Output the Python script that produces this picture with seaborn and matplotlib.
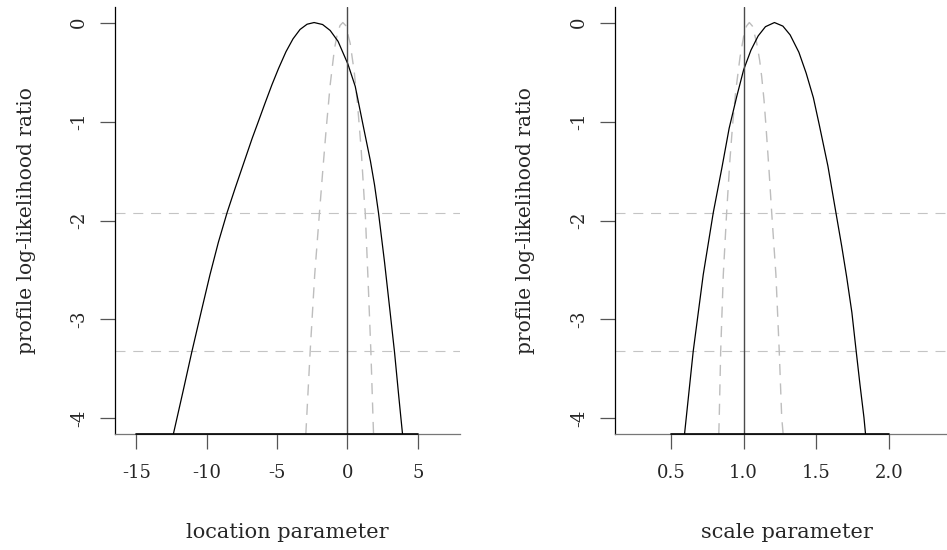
import numpy as np
import pandas as pd
import matplotlib
matplotlib.use('Agg')
import matplotlib.pyplot as plt
import seaborn as sns

# profile log-likelihood ratio, location parameter
loc_x = [-12.37, -11.67, -11.06, -10.37, -9.77, -9.17, -8.55, -7.97, -7.37, -6.77,
         -6.33, -5.87, -5.37, -4.90, -4.37, -3.87, -3.37, -2.87, -2.37, -1.77,
         -1.23, -0.67, 0.03, 0.55, 1.14, 1.63, 1.92, 2.20, 2.63, 3.03,
         3.34, 3.63, 3.79, 3.91]
loc_y = [-4.16, -3.72, -3.33, -2.91, -2.55, -2.22, -1.92, -1.67, -1.42, -1.17,
         -1.00, -0.82, -0.63, -0.465, -0.295, -0.165, -0.07, -0.017, 0.0, -0.02,
         -0.08, -0.19, -0.42, -0.645, -1.06, -1.40, -1.64, -1.92, -2.42, -2.93,
         -3.33, -3.76, -3.99, -4.16]
loc_x2 = [-2.96, -2.65, -2.33, -1.99, -1.73, -1.51, -1.23, -0.93, -0.73, -0.53,
          -0.33, -0.13, 0.19, 0.48, 0.71, 0.97, 1.19, 1.26, 1.46, 1.66,
          1.81, 1.85]
loc_y2 = [-4.16, -3.32, -2.55, -1.92, -1.45, -1.07, -0.63, -0.27, -0.12, -0.03,
          0.0, -0.03, -0.21, -0.50, -0.82, -1.28, -1.79, -1.92, -2.60, -3.32,
          -3.99, -4.16]

# profile log-likelihood ratio, scale parameter
scl_x = [0.593, 0.653, 0.722, 0.791, 0.850, 0.900, 0.952, 1.000, 1.050, 1.100,
         1.150, 1.212, 1.270, 1.320, 1.380, 1.430, 1.480, 1.520, 1.580, 1.635,
         1.675, 1.709, 1.745, 1.773, 1.800, 1.828, 1.839]
scl_y = [-4.16, -3.32, -2.546, -1.92, -1.47, -1.07, -0.75, -0.477, -0.28, -0.135,
         -0.042, 0.0, -0.036, -0.125, -0.30, -0.51, -0.76, -1.03, -1.45, -1.92,
         -2.26, -2.57, -2.93, -3.30, -3.65, -3.99, -4.16]
scl_x2 = [0.829, 0.832, 0.842, 0.860, 0.883, 0.905, 0.924, 0.945, 0.975, 1.000,
          1.020, 1.039, 1.060, 1.089, 1.110, 1.124, 1.140, 1.153, 1.175, 1.193,
          1.222, 1.245, 1.262, 1.272]
scl_y2 = [-4.16, -3.99, -3.32, -2.546, -1.92, -1.40, -1.032, -0.70, -0.35, -0.14,
          -0.035, 0.0, -0.035, -0.20, -0.38, -0.545, -0.78, -1.032, -1.50, -1.92,
          -2.546, -3.32, -3.99, -4.16]

cut_lines = [-1.92, -3.32]
true_loc, true_scl = 0, 1
loc_ticks = [-15, -10, -5, 0, 5]
scl_ticks = [0.5, 1.0, 1.5, 2.0]
y_ticks = [0, -1, -2, -3, -4]

sns.set_theme(style='white')
plt.rcParams['font.family'] = ['DejaVu Serif']
plt.rcParams['axes.unicode_minus'] = False

fig = plt.figure(figsize=(9.47, 5.5), dpi=100)
W, H = 947, 550
ax_w, ax_h = 344.7, 427.6
axL = fig.add_axes([115.3 / W, (H - 434.3) / H, ax_w / W, ax_h / H])
axR = fig.add_axes([615.0 / W, (H - 434.3) / H, ax_w / W, ax_h / H])

panels = [
    (axL, loc_x, loc_y, loc_x2, loc_y2, true_loc, loc_ticks, (-16.49, 7.99), 'location parameter'),
    (axR, scl_x, scl_y, scl_x2, scl_y2, true_scl, scl_ticks, (0.1146, 2.487), 'scale parameter'),
]

for ax, x1, y1, x2, y2, vtrue, xt, xlim, xlab in panels:
    for c in cut_lines:
        ax.axhline(c, color='#c4c4c4', lw=0.8, ls=(0, (9, 7)), zorder=1)
    sns.lineplot(x=x2, y=y2, ax=ax, color='#bdbdbd', lw=1.0, sort=False,
                 estimator=None, zorder=2)
    ax.lines[-1].set_linestyle((0, (8, 6)))
    sns.lineplot(x=x1, y=y1, ax=ax, color='black', lw=0.9, sort=False,
                 estimator=None, zorder=3)
    ax.axvline(vtrue, color='#4a4a4a', lw=1.0, zorder=4)

    ax.set_xlim(*xlim)
    ax.set_ylim(-4.16, 0.16)
    ax.set_xticks(xt)
    ax.set_xticklabels([str(t) for t in xt])
    ax.set_yticks(y_ticks)
    ax.set_yticklabels([str(t) for t in y_ticks], rotation=90, va='center')
    ax.tick_params(axis='both', which='major', direction='out', length=10.5,
                   width=0.9, color='#555555', labelsize=13, left=True, bottom=True)
    ax.tick_params(axis='x', pad=11)
    ax.tick_params(axis='y', pad=9)

    for s in ['top', 'right']:
        ax.spines[s].set_visible(False)
    ax.spines['left'].set_color('black')
    ax.spines['left'].set_linewidth(0.9)
    ax.spines['bottom'].set_color('#777777')
    ax.spines['bottom'].set_linewidth(0.9)
    # axis line between first and last tick, as in base R
    ax.plot([xt[0], xt[-1]], [-4.16, -4.16], color='black', lw=1.2,
            clip_on=False, zorder=5)

    ax.set_xlabel(xlab, fontsize=15)
    ax.set_ylabel('profile log-likelihood ratio', fontsize=14.5)
    ax.xaxis.label.set_va('center')
    ax.yaxis.label.set_va('center')
    ax.xaxis.set_label_coords(0.5, (434.3 - 532) / ax_h)
    ax.yaxis.set_label_coords((26 - 115.3) / ax_w, 0.5)
    ax.set_facecolor('white')
    ax.grid(False)

fig.savefig('out.png', dpi=100, facecolor='white')
